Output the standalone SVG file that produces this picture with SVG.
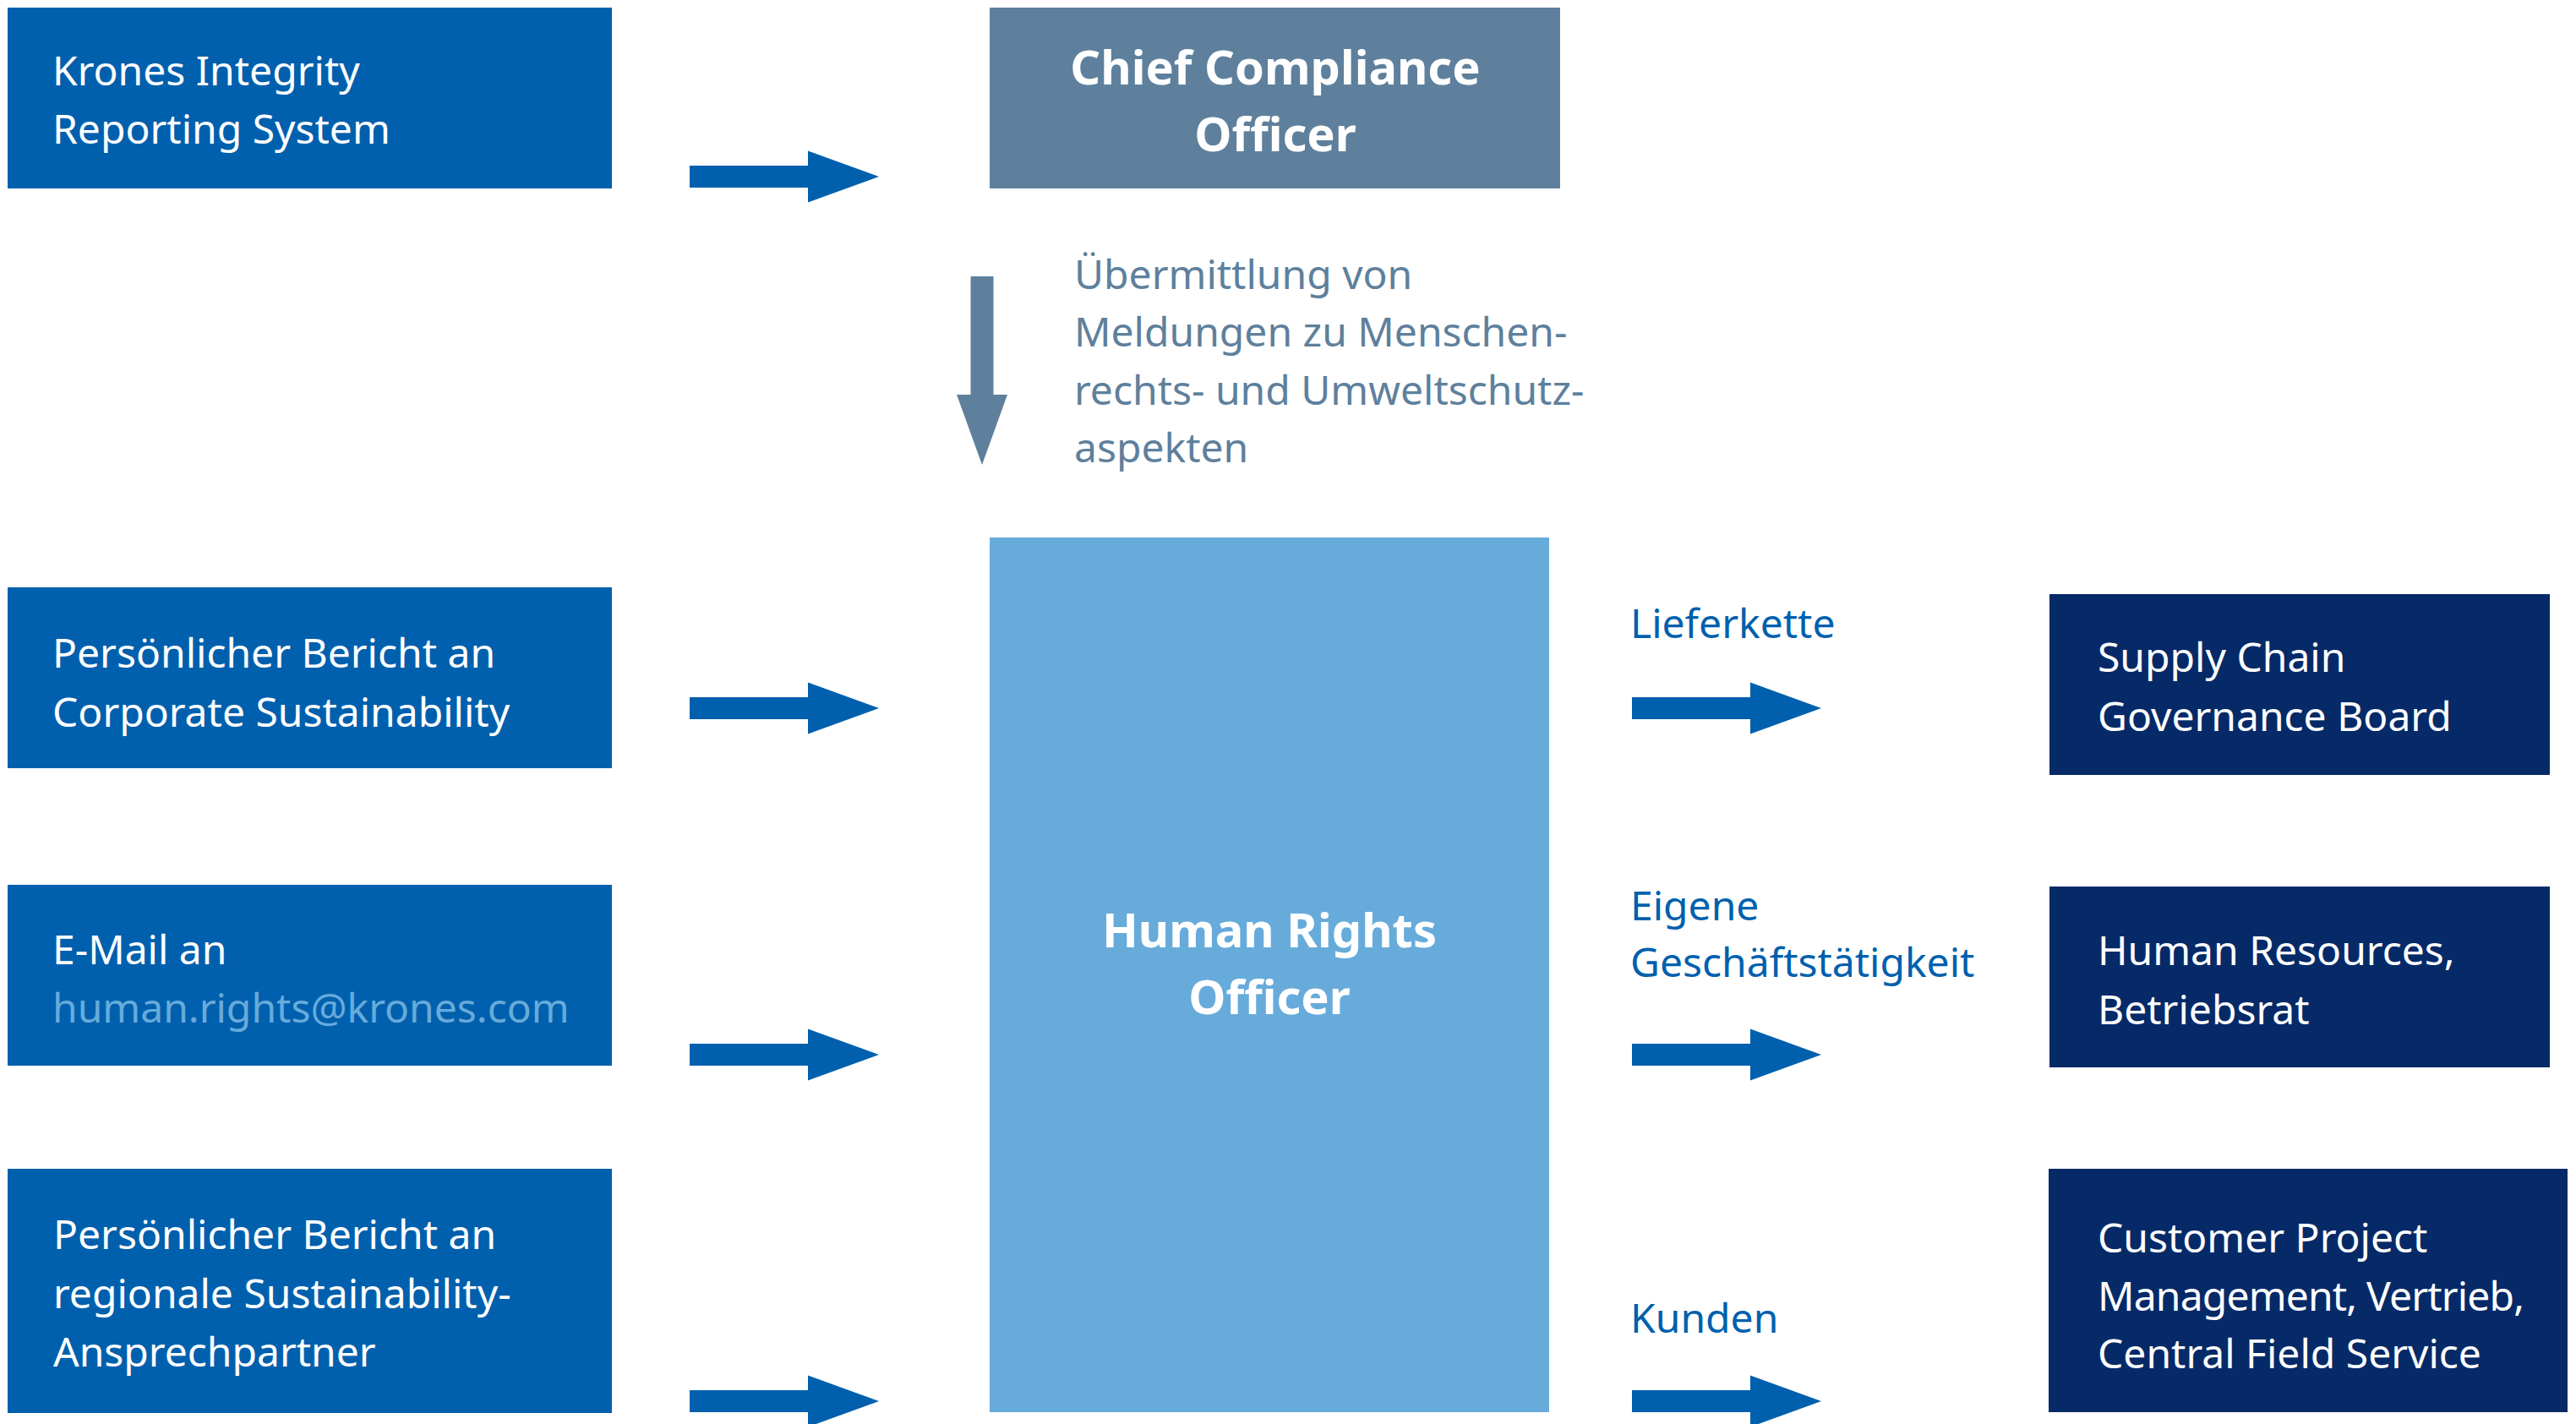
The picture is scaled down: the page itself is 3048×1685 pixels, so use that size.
<svg xmlns="http://www.w3.org/2000/svg" width="3048" height="1685" viewBox="0 0 3048 1685">
  <style>
    .t { font-family: "Noto Sans", "Open Sans", sans-serif; font-size: 48px; }
    .w { fill: #ffffff; }
    .b { font-family: "Noto Sans", "Open Sans", sans-serif; font-size: 56px; font-weight: 700; fill: #ffffff; text-anchor: middle; }
    .src { fill: #0060ad; }
    .dst { fill: #062a68; }
    .lbl { fill: #0060ad; }
    .note { fill: #5e809c; }
    .mail { fill: #67abdb; }
  </style>
  <defs>
    <!-- block arrow, pointing right, origin at the tail centre -->
    <path id="arrowR" d="M0,-13 H140 V-30.5 L224,0 L140,30.5 V13 H0 Z"/>
  </defs>
  <rect width="3048" height="1685" fill="#ffffff"/>

  <!-- reporting channels -->
  <g id="node-kirs">
    <rect class="src" x="9" y="9" width="715" height="214"/>
    <text class="t w" x="62" y="101">Krones Integrity</text>
    <text class="t w" x="62" y="170">Reporting System</text>
  </g>
  <g id="node-corp-sust">
    <rect class="src" x="9" y="695" width="715" height="214"/>
    <text class="t w" x="62" y="790">Persönlicher Bericht an</text>
    <text class="t w" x="62" y="860">Corporate Sustainability</text>
  </g>
  <g id="node-email">
    <rect class="src" x="9" y="1047" width="715" height="214"/>
    <text class="t w" x="62" y="1141">E-Mail an</text>
    <text class="t mail" x="62" y="1210">human.rights@krones.com</text>
  </g>
  <g id="node-regional">
    <rect class="src" x="9" y="1383" width="715" height="289"/>
    <text class="t w" x="63" y="1478">Persönlicher Bericht an</text>
    <text class="t w" x="63" y="1548">regionale Sustainability-</text>
    <text class="t w" x="63" y="1617">Ansprechpartner</text>
  </g>

  <!-- officers -->
  <g id="node-cco">
    <rect x="1171" y="9" width="675" height="214" fill="#5e809c"/>
    <text class="b" x="1509" y="100">Chief Compliance</text>
    <text class="b" x="1509" y="179">Officer</text>
  </g>
  <g id="node-hro">
    <rect x="1171" y="636" width="662" height="1035" fill="#67abdb"/>
    <text class="b" x="1502" y="1121">Human Rights</text>
    <text class="b" x="1502" y="1200">Officer</text>
  </g>

  <!-- escalation bodies -->
  <g id="node-scgb">
    <rect class="dst" x="2425" y="703" width="592" height="214"/>
    <text class="t w" x="2482" y="795">Supply Chain</text>
    <text class="t w" x="2482" y="865">Governance Board</text>
  </g>
  <g id="node-hr">
    <rect class="dst" x="2425" y="1049" width="592" height="214"/>
    <text class="t w" x="2482" y="1142">Human Resources,</text>
    <text class="t w" x="2482" y="1212">Betriebsrat</text>
  </g>
  <g id="node-cpm">
    <rect class="dst" x="2424" y="1383" width="614" height="288"/>
    <text class="t w" x="2482" y="1482">Customer Project</text>
    <text class="t w" x="2482" y="1551" textLength="505" lengthAdjust="spacing">Management, Vertrieb,</text>
    <text class="t w" x="2482" y="1619">Central Field Service</text>
  </g>

  <!-- connectors -->
  <g id="connectors">
    <g fill="#0060ad">
      <use href="#arrowR" x="816" y="209"/>
      <use href="#arrowR" x="816" y="838"/>
      <use href="#arrowR" x="816" y="1248"/>
      <use href="#arrowR" x="816" y="1658"/>
      <use href="#arrowR" x="1931" y="838"/>
      <use href="#arrowR" x="1931" y="1248"/>
      <use href="#arrowR" x="1931" y="1658"/>
    </g>
    <path d="M1148.5,327 H1175.5 V467 H1192 L1162,550 L1132,467 H1148.5 Z" fill="#5e809c"/>
    <text class="t note" x="1271" y="342">Übermittlung von</text>
    <text class="t note" x="1271" y="410">Meldungen zu Menschen-</text>
    <text class="t note" x="1271" y="479">rechts- und Umweltschutz-</text>
    <text class="t note" x="1271" y="547">aspekten</text>
    <text class="t lbl" x="1929" y="755">Lieferkette</text>
    <text class="t lbl" x="1929" y="1089">Eigene</text>
    <text class="t lbl" x="1929" y="1156">Geschäftstätigkeit</text>
    <text class="t lbl" x="1929" y="1577">Kunden</text>
  </g>
</svg>
